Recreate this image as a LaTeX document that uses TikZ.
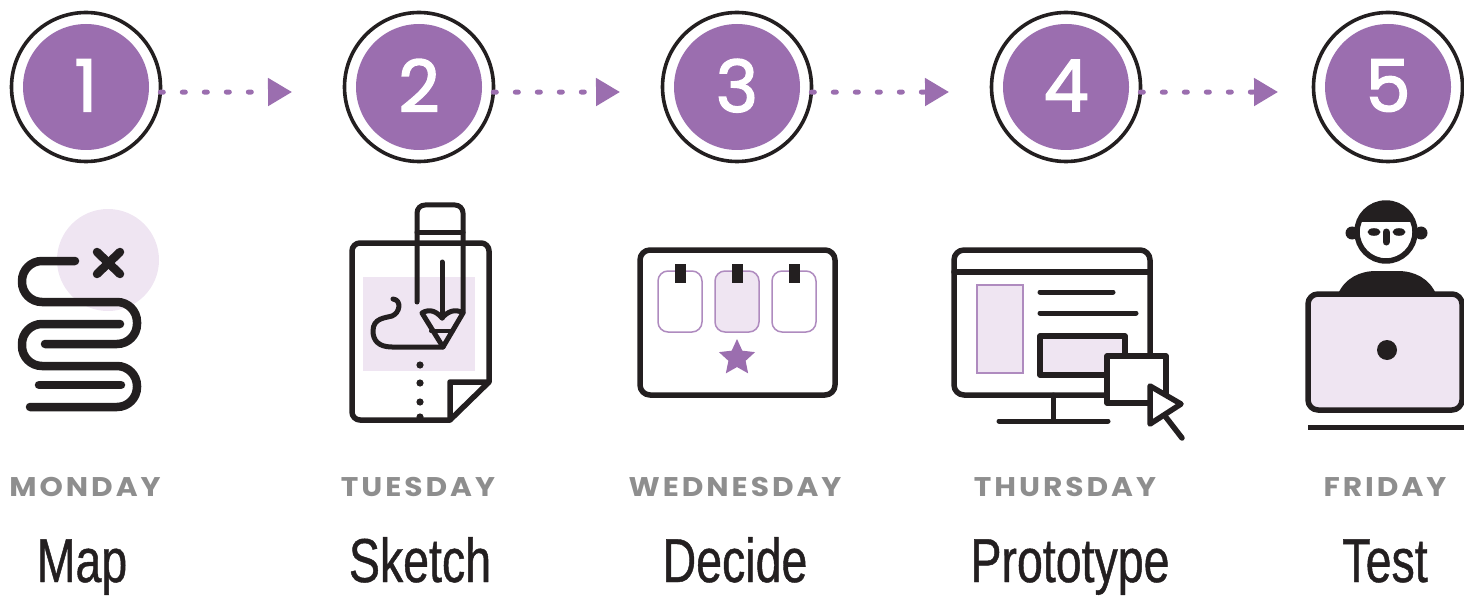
\documentclass[tikz,border=0pt]{standalone}
\usepackage{fontspec}
\usepackage{tikz}
\usetikzlibrary{arrows.meta, shapes.geometric}
\newfontfamily\numfont[FakeBold=2]{Poppins}
\newfontfamily\dayfont[LetterSpace=11, FakeStretch=1.1]{Poppins}
\newfontfamily\namefont[FakeStretch=0.75, FakeBold=0.7]{Liberation Sans}
\definecolor{stepviolet}{RGB}{155, 110, 175}
\definecolor{softpink}{RGB}{239, 229, 242}
\definecolor{inkblack}{RGB}{35, 31, 32}
\definecolor{daygrey}{RGB}{142, 142, 142}
\tikzset{
  stepring/.style={circle, draw=inkblack, line width=3.6pt, minimum size=149pt, inner sep=0pt, outer sep=0pt},
  stepnum/.style={circle, fill=stepviolet, text=white, minimum size=126pt, inner sep=0pt, font=\numfont\fontsize{72}{72}\selectfont},
  steparrow/.style={stepviolet, line width=5pt, line cap=round, dash pattern=on 3pt off 19pt, -{Triangle[length=24pt, width=27pt]}},
  daylabel/.style={text=daygrey, font=\dayfont\bfseries\fontsize{27}{27}\selectfont, anchor=base, inner sep=0pt},
  namelabel/.style={text=inkblack, font=\namefont\fontsize{62}{62}\selectfont, anchor=base, inner sep=0pt},
  icon/.style={draw=inkblack, line width=5.5pt, line cap=round, line join=round},
  thinbox/.style={draw=stepviolet!80, line width=1.5pt}
}

\begin{document}
\begin{tikzpicture}[x=1pt, y=-1pt]
  \useasboundingbox (0,0) rectangle (1464,596);
  % Numbered circles
  \foreach \i/\cx in {1/86, 2/419, 3/737, 4/1066, 5/1388}{
    \node[stepring] (ring\i) at (\cx,87) {};
    \node[stepnum] (num\i) at (ring\i) {\raisebox{3pt}{\i}};
  }
  % Dotted arrows between the circles
  \foreach \i/\ex in {1/292, 2/620, 3/949, 4/1278}{
    \coordinate (tip\i) at (\ex,92);
    \draw[steparrow] (ring\i.-4) -- (tip\i);
  }
  % Weekdays and names
  \foreach \i/\dx/\day/\nx/\word in {1/85/MONDAY/82/Map, 2/418/TUESDAY/420/Sketch,
      3/735/WEDNESDAY/735/Decide, 4/1065/THURSDAY/1070/Prototype, 5/1385/FRIDAY/1385/Test}{
    \node[daylabel] (day\i) at (\dx,496) {\day};
    \node[namelabel] (name\i) at (\nx,582) {\word};
  }

  % Map: winding road to the cross
  \fill[softpink] (108,260) circle (51);
  \draw[icon, line width=8.5pt, rounded corners=20pt]
    (75,261) -| (22,302) -| (137,344) -- (45,344);
  \draw[icon, line width=8.5pt, rounded corners=20pt]
    (120,324) -| (22,366) -| (137,407) -- (30,407);
  \draw[icon, line width=8.5pt] (39,385) -- (121,385);
  \draw[icon, line width=8.5pt] (97,252) -- (120,274);
  \draw[icon, line width=8.5pt] (120,252) -- (97,274);

  % Sketch: sheet with a pencil
  \fill[softpink] (363,277) rectangle (475,371);
  \draw[icon, rounded corners=8pt]
    (450,420) -- (352,420) -- (352,243) -- (489,243) -- (489,382);
  \draw[icon] (489,382) -- (450,382) -- (450,420) -- cycle;
  \foreach \dy in {365, 383, 402, 417}{
    \fill[inkblack] (420,\dy) circle (3.6);
  }
  \draw[icon, line width=5pt, rounded corners=8pt] (417,302) -- (417,205) -- (463,205) -- (463,313);
  \draw[icon, line width=5pt] (417,232) -- (463,232);
  \draw[icon, line width=5pt] (442,262) -- (442,318);
  \draw[icon, line width=5pt] (422,313)
    .. controls (430,308) and (437,312) .. (442,318)
    .. controls (447,312) and (455,308) .. (463,313)
    -- (443,347) -- cycle;
  \draw[icon, line width=4pt] (431,331) -- (453,331);
  \draw[icon, line width=5pt] (443,347) -- (392,347)
    .. controls (378,347) and (373,340) .. (373,331)
    .. controls (373,318) and (385,318) .. (392,316)
    .. controls (400,313) and (402,300) .. (393,299);

  % Decide: board with three cards and a star
  \draw[icon, rounded corners=10pt] (640,250) rectangle (835,395);
  \foreach \cx/\tone in {680/white, 737/softpink, 794/white}{
    \draw[thinbox, fill=\tone, rounded corners=10pt] (\cx-22,271) rectangle (\cx+22,332);
    \fill[inkblack] (\cx-5.5,264) rectangle (\cx+5.5,283);
  }
  \node[star, star points=5, star point ratio=2.1, fill=stepviolet, minimum size=38pt, inner sep=0pt] (favourite) at (737,358) {};

  % Prototype: monitor with mock-up and cursor
  \draw[icon, rounded corners=10pt] (954,250) rectangle (1150,395);
  \draw[icon] (954,272) -- (1150,272);
  \draw[thinbox, fill=softpink] (977,285) rectangle (1023,373);
  \draw[icon, line width=5pt] (1040,292) -- (1113,292);
  \draw[icon, line width=5pt] (1040,313) -- (1136,313);
  \draw[icon, fill=softpink] (1040,336) rectangle (1125,375);
  \draw[icon, line width=5pt] (1053,395) -- (1053,421);
  \draw[icon, line width=5pt] (999,421) -- (1108,421);
  \draw[icon, fill=white] (1107,356) rectangle (1166,403);
  \draw[icon, fill=white] (1150,386) -- (1181,404) -- (1150,424) -- cycle;
  \draw[icon] (1165,416) -- (1182,438);

  % Test: person behind a laptop
  \draw[icon] (1386,232) circle (29);
  \fill[inkblack] (1357,222) -- (1415,222) .. controls (1409,207) and (1399,201) .. (1386,201)
    .. controls (1373,201) and (1363,207) .. (1357,222) -- cycle;
  \fill[inkblack] (1352,233) circle (6.5);
  \fill[inkblack] (1421,233) circle (6.5);
  \fill[inkblack] (1374,232) ellipse (6.5 and 3.8);
  \fill[inkblack] (1399,232) ellipse (6.5 and 3.8);
  \draw[inkblack, line width=7pt, line cap=round] (1386,232) -- (1386,242);
  \fill[inkblack] (1338,294) .. controls (1345,278) and (1360,271) .. (1376,271)
    -- (1398,271) .. controls (1414,271) and (1429,278) .. (1436,294) -- cycle;
  \draw[icon, fill=softpink, rounded corners=10pt] (1308,294) rectangle (1462,410);
  \fill[inkblack] (1387,350) circle (10);
  \draw[icon, line width=5pt, line cap=butt] (1308,427) -- (1464,427);
\end{tikzpicture}
\end{document}
